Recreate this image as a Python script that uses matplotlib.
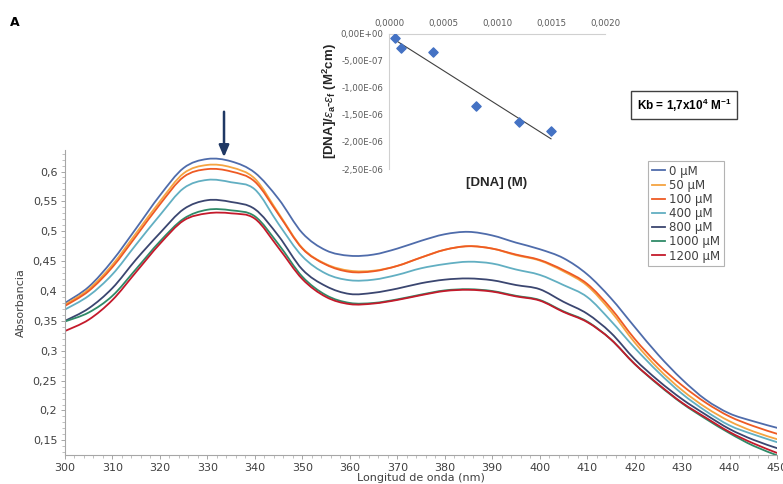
import numpy as np
import matplotlib
matplotlib.use("Agg")
import matplotlib.pyplot as plt
from matplotlib.ticker import FuncFormatter, MultipleLocator
from matplotlib.path import Path
from matplotlib.patches import PathPatch
from matplotlib.lines import Line2D

plt.rcParams["mathtext.fontset"] = "custom"
plt.rcParams["mathtext.rm"] = "Liberation Sans"
plt.rcParams["mathtext.bf"] = "Liberation Sans:bold"
plt.rcParams["mathtext.it"] = "Liberation Sans:italic"

# ---- UV-Vis titration spectra ----
wavelength = [300, 305, 310, 315, 320, 325, 330, 335, 340, 345, 350, 355, 360, 365, 370, 375,
              380, 385, 390, 395, 400, 405, 410, 415, 420, 425, 430, 435, 440, 445, 450]

abs_0 = [0.380, 0.407, 0.451, 0.505, 0.560, 0.606, 0.621, 0.617, 0.598, 0.554, 0.497, 0.468,
         0.459, 0.461, 0.471, 0.484, 0.495, 0.499, 0.493, 0.481, 0.470, 0.455, 0.428, 0.388,
         0.340, 0.293, 0.252, 0.218, 0.195, 0.182, 0.171]
abs_50 = [0.377, 0.403, 0.444, 0.497, 0.550, 0.597, 0.611, 0.607, 0.588, 0.530, 0.472, 0.445,
          0.434, 0.434, 0.442, 0.456, 0.469, 0.475, 0.471, 0.460, 0.451, 0.433, 0.409, 0.366,
          0.314, 0.270, 0.234, 0.205, 0.182, 0.165, 0.152]
abs_100 = [0.375, 0.400, 0.440, 0.492, 0.545, 0.591, 0.604, 0.600, 0.583, 0.528, 0.471, 0.444,
           0.432, 0.433, 0.442, 0.456, 0.469, 0.475, 0.471, 0.461, 0.452, 0.435, 0.412, 0.371,
           0.320, 0.277, 0.242, 0.213, 0.190, 0.174, 0.161]
abs_400 = [0.369, 0.392, 0.428, 0.478, 0.527, 0.572, 0.586, 0.582, 0.570, 0.512, 0.458, 0.429,
           0.418, 0.419, 0.427, 0.438, 0.445, 0.449, 0.446, 0.436, 0.427, 0.410, 0.390, 0.350,
           0.305, 0.264, 0.228, 0.199, 0.175, 0.160, 0.147]
abs_800 = [0.350, 0.371, 0.405, 0.453, 0.497, 0.537, 0.552, 0.549, 0.537, 0.492, 0.436, 0.408,
           0.395, 0.397, 0.404, 0.413, 0.419, 0.421, 0.418, 0.410, 0.403, 0.382, 0.362, 0.330,
           0.286, 0.250, 0.219, 0.193, 0.169, 0.151, 0.137]
abs_1000 = [0.349, 0.364, 0.392, 0.437, 0.483, 0.521, 0.536, 0.535, 0.525, 0.478, 0.424, 0.393,
            0.380, 0.380, 0.386, 0.394, 0.401, 0.403, 0.400, 0.392, 0.385, 0.366, 0.349, 0.319,
            0.278, 0.243, 0.212, 0.186, 0.162, 0.141, 0.125]
abs_1200 = [0.333, 0.352, 0.385, 0.432, 0.479, 0.518, 0.530, 0.530, 0.521, 0.472, 0.420, 0.390,
            0.378, 0.379, 0.385, 0.393, 0.400, 0.402, 0.399, 0.391, 0.384, 0.365, 0.348, 0.319,
            0.278, 0.244, 0.213, 0.188, 0.164, 0.145, 0.129]

series_labels = ["0 µM", "50 µM", "100 µM", "400 µM", "800 µM", "1000 µM", "1200 µM"]
series_values = [abs_0, abs_50, abs_100, abs_400, abs_800, abs_1000, abs_1200]
series_colors = ["#4f6cab", "#f5a441", "#ee5a24", "#62afc2", "#3b4670", "#2f8a68", "#c41a2b"]

# ---- binding plot ----
dna_conc = [0.00006, 0.00011, 0.00041, 0.00081, 0.00120, 0.00150]
dna_ratio = [-0.8e-7, -2.65e-7, -3.4e-7, -1.33e-6, -1.64e-6, -1.80e-6]

W, H = 783, 484
fig = plt.figure(figsize=(W / 100, H / 100), dpi=100)

tick_color = "#404040"
spine_color = "#a6a6a6"
bold_family = ["Liberation Sans", "DejaVu Sans"]


def comma(fmt):
    return FuncFormatter(lambda v, pos: fmt(v).replace(".", ","))


def smooth_path(x, y):
    """Smoothed line through the measured points (Catmull-Rom as cubic Beziers)."""
    p = np.column_stack([x, y]).astype(float)
    verts = [p[0]]
    codes = [Path.MOVETO]
    n = len(p)
    for i in range(n - 1):
        p0 = p[i - 1] if i > 0 else p[i]
        p1, p2 = p[i], p[i + 1]
        p3 = p[i + 2] if i + 2 < n else p[i + 1]
        c1 = p1 + (p2 - p0) / 6.0
        c2 = p2 - (p3 - p1) / 6.0
        verts += [c1, c2, p2]
        codes += [Path.CURVE4] * 3
    return Path(verts, codes)


# Main spectra axes
ax = fig.add_axes([65 / W, 1 - 455 / H, (777 - 65) / W, (455 - 150) / H])
handles = []
for vals, lab, col in zip(series_values, series_labels, series_colors):
    patch = PathPatch(smooth_path(wavelength, vals), fill=False, edgecolor=col, lw=1.3,
                      capstyle="round", joinstyle="round")
    ax.add_patch(patch)
    handles.append(Line2D([], [], color=col, lw=1.3, label=lab))

ax.set_xlim(300, 450)
ax.set_ylim(0.1255, 0.636)
ax.set_xticks(np.arange(300, 451, 10))
ax.set_yticks(np.arange(0.15, 0.601, 0.05))
ax.xaxis.set_minor_locator(MultipleLocator(2))
ax.yaxis.set_minor_locator(MultipleLocator(0.01))
ax.xaxis.set_major_formatter(comma(lambda v: f"{v:g}"))
ax.yaxis.set_major_formatter(comma(lambda v: f"{round(v, 2):g}"))
for side in ("top", "right"):
    ax.spines[side].set_visible(False)
for side in ("left", "bottom"):
    ax.spines[side].set_color(spine_color)
    ax.spines[side].set_linewidth(0.8)
ax.tick_params(axis="both", which="major", labelsize=8, colors=spine_color,
               labelcolor=tick_color, length=3, width=0.7, pad=2.5)
ax.tick_params(axis="both", which="minor", colors=spine_color, length=2, width=0.5)
ax.set_xlabel("Longitud de onda (nm)", fontsize=8, color=tick_color, labelpad=0)
ax.set_ylabel("Absorbancia", fontsize=8, color=tick_color, labelpad=5)

leg = ax.legend(handles=handles, loc="upper left", bbox_to_anchor=(648 / W, 1 - 161 / H),
                bbox_transform=fig.transFigure, fontsize=8.5, frameon=True,
                fancybox=False, handlelength=1.1, handletextpad=0.4,
                labelspacing=0.1, borderpad=0.3, borderaxespad=0)
leg.get_frame().set_edgecolor("#a0a0a0")
leg.get_frame().set_linewidth(0.8)
for t in leg.get_texts():
    t.set_color(tick_color)

# Arrow marking the band at ~333 nm
ax.annotate("", xy=(333.5, 0.624), xytext=(333.5, 0.700), annotation_clip=False,
            arrowprops=dict(arrowstyle="-|>,head_length=0.7,head_width=0.3",
                            color="#1f3864", lw=1.8, shrinkA=0, shrinkB=0))

# Inset: binding constant plot
ins = fig.add_axes([389 / W, 1 - 169 / H, (605 - 389) / W, (169 - 33.5) / H])
ins.scatter(dna_conc, dna_ratio, marker="D", s=22, color="#4472c4", zorder=3)
slope, intercept = np.polyfit(dna_conc, dna_ratio, 1)
fit_x = np.array([min(dna_conc), max(dna_conc)])
ins.plot(fit_x, slope * fit_x + intercept, color="#404040", lw=0.8)
ins.set_xlim(0, 0.002)
ins.set_ylim(-2.5e-6, 0)
ins.set_xticks(np.arange(0, 0.00201, 0.0005))
ins.set_yticks(np.arange(-2.5e-6, 1e-12, 5e-7))
ins.xaxis.set_major_formatter(comma(lambda v: f"{v:.4f}"))
ins.yaxis.set_major_formatter(comma(lambda v: f"{0.0 if abs(v) < 1e-12 else v:.2E}"))
ins.xaxis.tick_top()
ins.spines["bottom"].set_visible(False)
ins.spines["right"].set_visible(False)
ins.spines["top"].set_color("#d0d0d0")
ins.spines["left"].set_color("#d0d0d0")
ins.tick_params(axis="both", length=0, labelsize=6.2, labelcolor="#595959", pad=4)
ins.patch.set_alpha(0)
ins.set_xlabel("[DNA] (M)", fontsize=9.5, fontweight="bold", family=bold_family,
               color="#262626", labelpad=6)
ins.set_ylabel(r"[DNA]/$\mathit{ε}_\mathbf{a}$-$\mathit{ε}_\mathbf{f}$ (M$^\mathbf{2}$cm)",
               fontsize=9.5, fontweight="bold", family=bold_family, color="#262626",
               labelpad=1)

# Binding constant box
fig.text(684 / W, 1 - 105 / H, r"Kb = 1,7x10$^\mathbf{4}$ M$^\mathbf{-1}$", fontsize=8.5,
         fontweight="bold", family=bold_family, ha="center", va="center", color="black",
         bbox=dict(boxstyle="square,pad=0.45", fc="white", ec="#404040", lw=1.0))

# Panel label
fig.text(15 / W, 1 - 23 / H, "A", fontsize=9, fontweight="bold", ha="center", va="center")

fig.savefig("out.png", dpi=100)
